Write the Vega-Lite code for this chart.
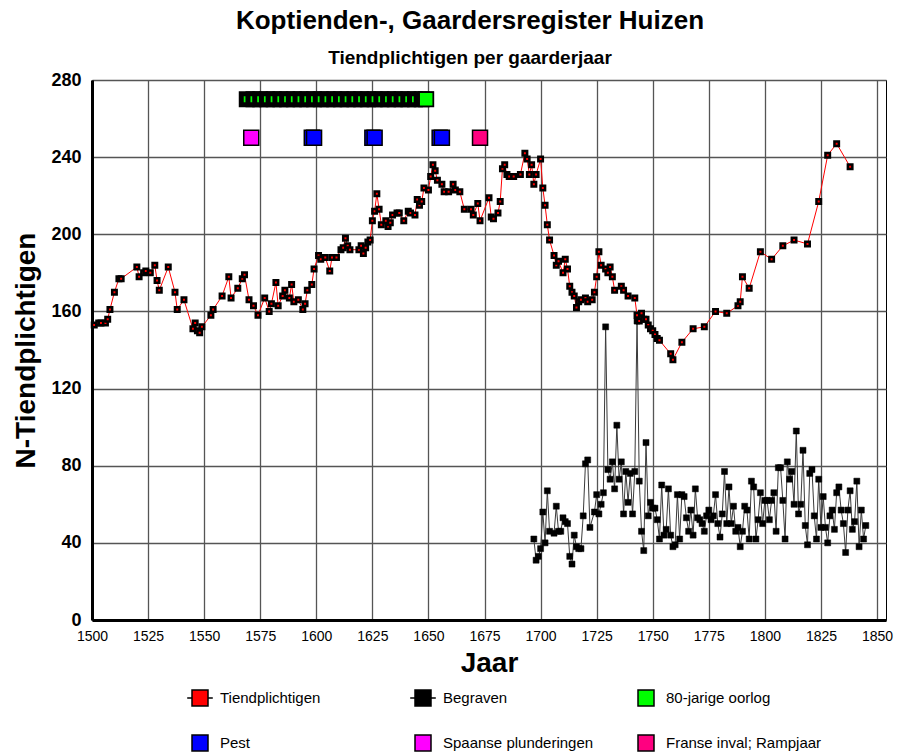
{
  "$schema": "https://vega.github.io/schema/vega-lite/v6.json",
  "autosize": {"type": "none"},
  "width": 794,
  "height": 540,
  "padding": {"left": 92, "top": 80, "right": 17, "bottom": 133},
  "background": "white",
  "title": {
    "text": "Koptienden-, Gaardersregister Huizen",
    "subtitle": "Tiendplichtigen per gaarderjaar",
    "font": "Liberation Sans",
    "fontSize": 26,
    "fontWeight": "bold",
    "color": "black",
    "subtitleFont": "Liberation Sans",
    "subtitleFontSize": 19,
    "subtitleFontWeight": "bold",
    "subtitleColor": "black",
    "subtitlePadding": 15,
    "anchor": "middle",
    "dx": -19,
    "offset": 3
  },
  "config": {
    "view": {"stroke": "black", "strokeWidth": 1},
    "legend": {"title": null}
  },
  "datasets": {
    "tiend": [
      {"jaar":1501,"n":153},{"jaar":1503,"n":154},{"jaar":1504,"n":154},{"jaar":1506,"n":154},{"jaar":1507,"n":156},{"jaar":1508,"n":161},{"jaar":1510,"n":170},{"jaar":1512,"n":177},{"jaar":1513,"n":177},
      {"jaar":1520,"n":183},{"jaar":1521,"n":178},{"jaar":1523,"n":180},{"jaar":1524,"n":181},{"jaar":1526,"n":180},{"jaar":1528,"n":184},{"jaar":1529,"n":176},{"jaar":1530,"n":171},{"jaar":1534,"n":183},{"jaar":1537,"n":170},{"jaar":1538,"n":161},
      {"jaar":1541,"n":166},{"jaar":1545,"n":151},{"jaar":1546,"n":154},{"jaar":1547,"n":150},{"jaar":1548,"n":149},{"jaar":1549,"n":152},{"jaar":1553,"n":158},{"jaar":1554,"n":161},{"jaar":1558,"n":168},
      {"jaar":1561,"n":178},{"jaar":1562,"n":167},{"jaar":1565,"n":172},{"jaar":1567,"n":177},{"jaar":1568,"n":179},{"jaar":1570,"n":166},{"jaar":1572,"n":163},{"jaar":1574,"n":158},{"jaar":1577,"n":167},{"jaar":1579,"n":160},
      {"jaar":1580,"n":164},{"jaar":1582,"n":175},{"jaar":1583,"n":163},{"jaar":1585,"n":168},{"jaar":1586,"n":171},{"jaar":1588,"n":167},{"jaar":1589,"n":174},{"jaar":1590,"n":165},{"jaar":1592,"n":166},{"jaar":1594,"n":161},
      {"jaar":1595,"n":164},{"jaar":1596,"n":171},{"jaar":1598,"n":174},{"jaar":1599,"n":182},{"jaar":1601,"n":189},{"jaar":1602,"n":187},{"jaar":1604,"n":188},{"jaar":1606,"n":181},{"jaar":1607,"n":188},{"jaar":1609,"n":188},
      {"jaar":1611,"n":192},{"jaar":1612,"n":193},{"jaar":1613,"n":198},{"jaar":1614,"n":194},{"jaar":1615,"n":192},{"jaar":1619,"n":192},{"jaar":1620,"n":194},{"jaar":1621,"n":190},{"jaar":1622,"n":193},{"jaar":1623,"n":196},
      {"jaar":1624,"n":197},{"jaar":1625,"n":207},{"jaar":1626,"n":212},{"jaar":1627,"n":221},{"jaar":1628,"n":213},{"jaar":1629,"n":205},{"jaar":1631,"n":207},{"jaar":1632,"n":204},{"jaar":1633,"n":206},{"jaar":1634,"n":210},
      {"jaar":1636,"n":211},{"jaar":1637,"n":211},{"jaar":1639,"n":207},{"jaar":1641,"n":212},{"jaar":1642,"n":211},{"jaar":1644,"n":210},{"jaar":1645,"n":218},{"jaar":1646,"n":215},{"jaar":1647,"n":217},{"jaar":1648,"n":224},
      {"jaar":1650,"n":223},{"jaar":1651,"n":230},{"jaar":1652,"n":236},{"jaar":1653,"n":233},{"jaar":1654,"n":228},{"jaar":1656,"n":226},{"jaar":1657,"n":222},{"jaar":1659,"n":222},{"jaar":1661,"n":226},{"jaar":1662,"n":223},
      {"jaar":1664,"n":222},{"jaar":1666,"n":213},{"jaar":1669,"n":213},{"jaar":1670,"n":210},{"jaar":1672,"n":216},{"jaar":1673,"n":207},{"jaar":1677,"n":219},{"jaar":1678,"n":209},{"jaar":1679,"n":208},{"jaar":1681,"n":211},
      {"jaar":1682,"n":217},{"jaar":1683,"n":234},{"jaar":1684,"n":236},{"jaar":1685,"n":231},{"jaar":1686,"n":230},{"jaar":1688,"n":230},{"jaar":1691,"n":231},{"jaar":1693,"n":242},{"jaar":1694,"n":239},{"jaar":1695,"n":231},
      {"jaar":1696,"n":236},{"jaar":1697,"n":226},{"jaar":1698,"n":231},{"jaar":1700,"n":239},{"jaar":1701,"n":224},{"jaar":1702,"n":215},{"jaar":1703,"n":205},{"jaar":1704,"n":197},{"jaar":1706,"n":189},{"jaar":1707,"n":184},
      {"jaar":1708,"n":186},{"jaar":1710,"n":180},{"jaar":1711,"n":187},{"jaar":1712,"n":182},{"jaar":1713,"n":173},{"jaar":1714,"n":170},{"jaar":1715,"n":168},{"jaar":1716,"n":162},{"jaar":1717,"n":165},{"jaar":1718,"n":166},
      {"jaar":1720,"n":167},{"jaar":1721,"n":165},{"jaar":1723,"n":166},{"jaar":1724,"n":170},{"jaar":1725,"n":178},{"jaar":1726,"n":191},{"jaar":1727,"n":184},{"jaar":1729,"n":182},{"jaar":1730,"n":180},{"jaar":1731,"n":183},
      {"jaar":1732,"n":178},{"jaar":1733,"n":171},{"jaar":1736,"n":173},{"jaar":1737,"n":171},{"jaar":1739,"n":168},{"jaar":1742,"n":167},{"jaar":1743,"n":158},{"jaar":1744,"n":155},{"jaar":1745,"n":159},{"jaar":1746,"n":156},
      {"jaar":1747,"n":156},{"jaar":1748,"n":153},{"jaar":1749,"n":151},{"jaar":1750,"n":150},{"jaar":1751,"n":148},{"jaar":1752,"n":146},{"jaar":1753,"n":145},{"jaar":1758,"n":138},{"jaar":1759,"n":135},{"jaar":1763,"n":144},
      {"jaar":1768,"n":151},{"jaar":1773,"n":152},{"jaar":1778,"n":160},{"jaar":1783,"n":159},{"jaar":1788,"n":163},{"jaar":1789,"n":165},{"jaar":1790,"n":178},{"jaar":1793,"n":172},{"jaar":1798,"n":191},{"jaar":1803,"n":187},
      {"jaar":1808,"n":194},{"jaar":1813,"n":197},{"jaar":1819,"n":195},{"jaar":1824,"n":217},{"jaar":1828,"n":241},{"jaar":1832,"n":247},{"jaar":1838,"n":235}
    ],
    "begraven": [
      {"jaar":1697,"n":42},{"jaar":1698,"n":31},{"jaar":1699,"n":33},{"jaar":1700,"n":37},{"jaar":1701,"n":56},{"jaar":1702,"n":40},{"jaar":1703,"n":67},{"jaar":1704,"n":46},{"jaar":1706,"n":45},{"jaar":1707,"n":59},
      {"jaar":1708,"n":46},{"jaar":1709,"n":46},{"jaar":1710,"n":53},{"jaar":1711,"n":51},{"jaar":1712,"n":50},{"jaar":1713,"n":33},{"jaar":1714,"n":29},{"jaar":1715,"n":44},{"jaar":1716,"n":38},{"jaar":1717,"n":37},
      {"jaar":1718,"n":37},{"jaar":1719,"n":54},{"jaar":1720,"n":81},{"jaar":1721,"n":83},{"jaar":1722,"n":48},{"jaar":1724,"n":56},{"jaar":1725,"n":65},{"jaar":1726,"n":55},{"jaar":1727,"n":60},{"jaar":1728,"n":66},
      {"jaar":1729,"n":152},{"jaar":1730,"n":78},{"jaar":1731,"n":73},{"jaar":1732,"n":82},{"jaar":1733,"n":68},{"jaar":1734,"n":101},{"jaar":1735,"n":73},{"jaar":1736,"n":82},{"jaar":1737,"n":55},{"jaar":1738,"n":77},
      {"jaar":1739,"n":61},{"jaar":1740,"n":76},{"jaar":1741,"n":55},{"jaar":1742,"n":77},{"jaar":1743,"n":155},{"jaar":1744,"n":72},{"jaar":1745,"n":46},{"jaar":1746,"n":36},{"jaar":1747,"n":92},{"jaar":1748,"n":54},
      {"jaar":1749,"n":61},{"jaar":1750,"n":58},{"jaar":1751,"n":58},{"jaar":1752,"n":52},{"jaar":1753,"n":42},{"jaar":1754,"n":70},{"jaar":1755,"n":44},{"jaar":1756,"n":47},{"jaar":1757,"n":68},{"jaar":1758,"n":44},
      {"jaar":1759,"n":38},{"jaar":1760,"n":39},{"jaar":1761,"n":65},{"jaar":1762,"n":42},{"jaar":1763,"n":65},{"jaar":1764,"n":64},{"jaar":1765,"n":53},{"jaar":1766,"n":46},{"jaar":1767,"n":57},{"jaar":1768,"n":44},
      {"jaar":1769,"n":68},{"jaar":1770,"n":53},{"jaar":1771,"n":52},{"jaar":1772,"n":50},{"jaar":1773,"n":46},{"jaar":1774,"n":54},{"jaar":1775,"n":57},{"jaar":1776,"n":52},{"jaar":1777,"n":54},{"jaar":1778,"n":65},
      {"jaar":1779,"n":50},{"jaar":1780,"n":43},{"jaar":1781,"n":55},{"jaar":1782,"n":77},{"jaar":1783,"n":50},{"jaar":1784,"n":69},{"jaar":1785,"n":50},{"jaar":1786,"n":59},{"jaar":1787,"n":46},{"jaar":1788,"n":48},
      {"jaar":1789,"n":38},{"jaar":1790,"n":46},{"jaar":1791,"n":59},{"jaar":1792,"n":57},{"jaar":1793,"n":42},{"jaar":1794,"n":72},{"jaar":1795,"n":69},{"jaar":1796,"n":42},{"jaar":1797,"n":52},{"jaar":1798,"n":66},
      {"jaar":1799,"n":50},{"jaar":1800,"n":62},{"jaar":1801,"n":62},{"jaar":1802,"n":52},{"jaar":1803,"n":62},{"jaar":1804,"n":66},{"jaar":1805,"n":46},{"jaar":1806,"n":79},{"jaar":1807,"n":79},{"jaar":1808,"n":62},
      {"jaar":1809,"n":42},{"jaar":1810,"n":82},{"jaar":1811,"n":73},{"jaar":1812,"n":77},{"jaar":1813,"n":60},{"jaar":1814,"n":98},{"jaar":1815,"n":55},{"jaar":1816,"n":60},{"jaar":1817,"n":88},{"jaar":1818,"n":49},
      {"jaar":1819,"n":39},{"jaar":1820,"n":76},{"jaar":1821,"n":78},{"jaar":1822,"n":54},{"jaar":1823,"n":42},{"jaar":1824,"n":73},{"jaar":1825,"n":48},{"jaar":1826,"n":64},{"jaar":1827,"n":48},{"jaar":1828,"n":40},
      {"jaar":1829,"n":54},{"jaar":1830,"n":57},{"jaar":1831,"n":47},{"jaar":1832,"n":66},{"jaar":1833,"n":69},{"jaar":1834,"n":57},{"jaar":1835,"n":50},{"jaar":1836,"n":35},{"jaar":1837,"n":57},{"jaar":1838,"n":67},
      {"jaar":1839,"n":47},{"jaar":1840,"n":51},{"jaar":1841,"n":72},{"jaar":1842,"n":38},{"jaar":1843,"n":57},{"jaar":1844,"n":42},{"jaar":1845,"n":49}
    ],
    "oorlog": [
      {"jaar":1569,"n":270},{"jaar":1572,"n":270},{"jaar":1575,"n":270},{"jaar":1578,"n":270},{"jaar":1581,"n":270},{"jaar":1584,"n":270},{"jaar":1587,"n":270},
      {"jaar":1590,"n":270},{"jaar":1593,"n":270},{"jaar":1596,"n":270},{"jaar":1599,"n":270},{"jaar":1602,"n":270},{"jaar":1605,"n":270},{"jaar":1608,"n":270},
      {"jaar":1611,"n":270},{"jaar":1614,"n":270},{"jaar":1617,"n":270},{"jaar":1620,"n":270},{"jaar":1623,"n":270},{"jaar":1626,"n":270},{"jaar":1629,"n":270},
      {"jaar":1632,"n":270},{"jaar":1635,"n":270},{"jaar":1638,"n":270},{"jaar":1641,"n":270},{"jaar":1644,"n":270},{"jaar":1647,"n":270},{"jaar":1649,"n":270}
    ],
    "gebeurtenis": [
      {"jaar":1571,"n":250,"reeks":"Spaanse plunderingen"},
      {"jaar":1598,"n":250,"reeks":"Pest"},
      {"jaar":1599,"n":250,"reeks":"Pest"},
      {"jaar":1625,"n":250,"reeks":"Pest"},
      {"jaar":1626,"n":250,"reeks":"Pest"},
      {"jaar":1655,"n":250,"reeks":"Pest"},
      {"jaar":1656,"n":250,"reeks":"Pest"},
      {"jaar":1673,"n":250,"reeks":"Franse inval; Rampjaar"}
    ]
  },
  "encoding": {
    "x": {
      "field": "jaar",
      "type": "quantitative",
      "scale": {"domain": [1500, 1854], "nice": false, "zero": false},
      "axis": {
        "values": [1500,1525,1550,1575,1600,1625,1650,1675,1700,1725,1750,1775,1800,1825,1850],
        "format": "d",
        "grid": true,
        "gridColor": "#555555",
        "gridWidth": 1.3,
        "ticks": false,
        "domainColor": "black",
        "domainWidth": 3,
        "labelFont": "Liberation Sans",
        "labelFontSize": 14,
        "labelColor": "black",
        "labelPadding": 9,
        "labelFlush": false,
        "labelOverlap": false,
        "title": "Jaar",
        "titleFont": "Liberation Sans",
        "titleFontSize": 28,
        "titleFontWeight": "bold",
        "titleColor": "black",
        "titlePadding": 6
      }
    },
    "y": {
      "field": "n",
      "type": "quantitative",
      "scale": {"domain": [0, 280], "nice": false},
      "axis": {
        "values": [0,40,80,120,160,200,240,280],
        "grid": true,
        "gridColor": "#555555",
        "gridWidth": 1.3,
        "ticks": false,
        "domainColor": "black",
        "domainWidth": 3,
        "labelFont": "Liberation Sans",
        "labelFontSize": 18,
        "labelFontWeight": "bold",
        "labelColor": "black",
        "labelPadding": 11,
        "title": "N-Tiendplichtigen",
        "titleFont": "Liberation Sans",
        "titleFontSize": 28,
        "titleFontWeight": "bold",
        "titleColor": "black",
        "titlePadding": 10
      }
    }
  },
  "layer": [
    {
      "data": {"name": "begraven"},
      "mark": {"type": "line", "color": "#3a3a3a", "strokeWidth": 1}
    },
    {
      "data": {"name": "begraven"},
      "mark": {"type": "point", "shape": "square", "filled": true, "size": 36, "opacity": 1, "stroke": "black", "strokeWidth": 0.5},
      "encoding": {
        "color": {
          "datum": "Begraven",
          "type": "nominal",
          "title": null,
          "scale": {
            "domain": ["Tiendplichtigen", "Begraven", "80-jarige oorlog", "Pest", "Spaanse plunderingen", "Franse inval; Rampjaar"],
            "range": ["#ff0000", "#000000", "#00ff00", "#0000ff", "#ff00ff", "#ff0080"]
          },
          "legend": {
            "title": null,
            "orient": "none",
            "legendX": 99,
            "legendY": 609,
            "direction": "horizontal",
            "columns": 3,
            "padding": 0,
            "symbolType": "square",
            "symbolSize": 256,
            "symbolStrokeColor": "black",
            "symbolStrokeWidth": 1.5,
            "symbolOpacity": 1,
            "labelFont": "Liberation Sans",
            "labelFontSize": 15,
            "labelColor": "black",
            "labelOffset": 11,
            "columnPadding": 31,
            "rowPadding": 23,
            "gridAlign": "all",
            "encode": {
              "symbols": {
                "update": {
                  "shape": {"signal": "(datum.label === 'Tiendplichtigen' || datum.label === 'Begraven') ? 'M-1.6,0H-1M1,0H1.6M-1,-1H1V1H-1Z' : 'square'"},
                  "stroke": {"value": "black"},
                  "strokeWidth": {"value": 1.5},
                  "opacity": {"value": 1}
                }
              }
            }
          }
        }
      }
    },
    {
      "data": {"name": "tiend"},
      "mark": {"type": "line", "color": "#ff0000", "strokeWidth": 1}
    },
    {
      "data": {"name": "tiend"},
      "mark": {"type": "point", "shape": "square", "filled": true, "size": 20, "opacity": 1, "stroke": "black", "strokeWidth": 2.5},
      "encoding": {
        "color": {
          "datum": "Tiendplichtigen",
          "type": "nominal",
          "title": null,
          "scale": {
            "domain": ["Tiendplichtigen", "Begraven", "80-jarige oorlog", "Pest", "Spaanse plunderingen", "Franse inval; Rampjaar"],
            "range": ["#ff0000", "#000000", "#00ff00", "#0000ff", "#ff00ff", "#ff0080"]
          }
        }
      }
    },
    {
      "data": {"name": "oorlog"},
      "mark": {"type": "point", "shape": "square", "filled": true, "size": 121, "opacity": 1, "stroke": "black", "strokeWidth": 5},
      "encoding": {
        "color": {
          "datum": "80-jarige oorlog",
          "type": "nominal",
          "title": null,
          "scale": {
            "domain": ["Tiendplichtigen", "Begraven", "80-jarige oorlog", "Pest", "Spaanse plunderingen", "Franse inval; Rampjaar"],
            "range": ["#ff0000", "#000000", "#00ff00", "#0000ff", "#ff00ff", "#ff0080"]
          }
        }
      }
    },
    {
      "data": {"name": "oorlog"},
      "transform": [{"filter": "datum.jaar == 1649"}],
      "mark": {"type": "point", "shape": "square", "filled": true, "size": 196, "opacity": 1, "stroke": "black", "strokeWidth": 1.5},
      "encoding": {
        "color": {
          "datum": "80-jarige oorlog",
          "type": "nominal",
          "title": null,
          "scale": {
            "domain": ["Tiendplichtigen", "Begraven", "80-jarige oorlog", "Pest", "Spaanse plunderingen", "Franse inval; Rampjaar"],
            "range": ["#ff0000", "#000000", "#00ff00", "#0000ff", "#ff00ff", "#ff0080"]
          }
        }
      }
    },
    {
      "data": {"name": "gebeurtenis"},
      "mark": {"type": "point", "shape": "square", "filled": true, "size": 225, "opacity": 1, "stroke": "black", "strokeWidth": 1.5},
      "encoding": {
        "color": {
          "field": "reeks",
          "type": "nominal",
          "title": null,
          "scale": {
            "domain": ["Tiendplichtigen", "Begraven", "80-jarige oorlog", "Pest", "Spaanse plunderingen", "Franse inval; Rampjaar"],
            "range": ["#ff0000", "#000000", "#00ff00", "#0000ff", "#ff00ff", "#ff0080"]
          }
        }
      }
    }
  ]
}
